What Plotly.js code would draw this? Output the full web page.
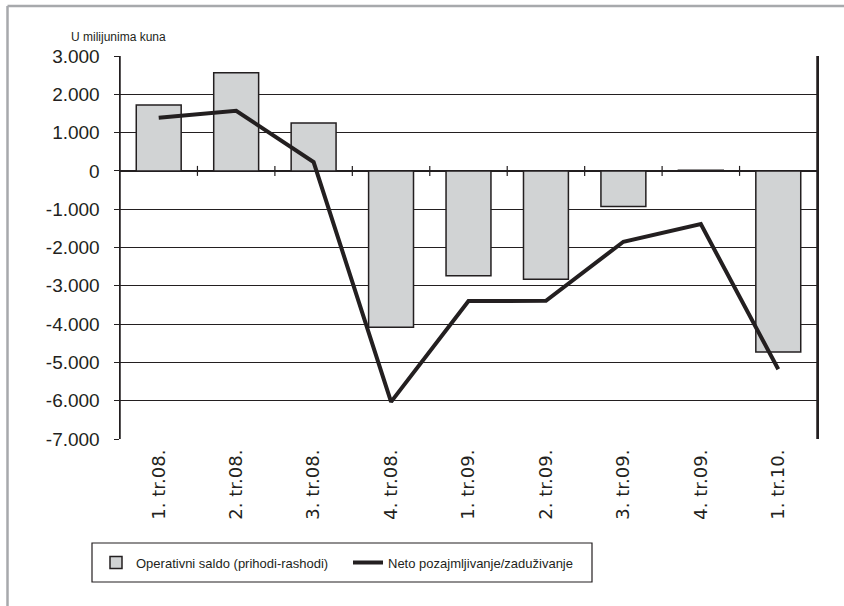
<!DOCTYPE html>
<html>
<head>
<meta charset="utf-8">
<script src="https://cdn.plot.ly/plotly-3.0.1.min.js"></script>
<style>html,body{margin:0;padding:0;background:#fff;}#chart{width:844px;height:606px;}</style>
</head>
<body>
<div id="chart"></div>
<script>
// Data
var categories = ["1. tr.08.", "2. tr.08.", "3. tr.08.", "4. tr.08.", "1. tr.09.", "2. tr.09.", "3. tr.09.", "4. tr.09.", "1. tr.10."];
var operativniSaldo = [1720, 2560, 1250, -4080, -2740, -2830, -930, 20, -4730];
var netoPozajmljivanje = [1390, 1570, 230, -6030, -3400, -3390, -1850, -1390, -5180];
var yTickVals = [3000, 2000, 1000, 0, -1000, -2000, -3000, -4000, -5000, -6000, -7000];
var yTickText = ["3.000", "2.000", "1.000", "0", "-1.000", "-2.000", "-3.000", "-4.000", "-5.000", "-6.000", "-7.000"];
var unitLabel = "U milijunima kuna";
var seriesNames = ["Operativni saldo (prihodi-rashodi)", "Neto pozajmljivanje/zaduživanje"];

var traces = [
  {
    type: "bar",
    x: categories,
    y: operativniSaldo,
    name: seriesNames[0],
    marker: {color: "#d1d3d4", line: {color: "#231f20", width: 1.5}},
    hoverinfo: "x+y"
  },
  {
    type: "scatter",
    mode: "lines",
    x: categories,
    y: netoPozajmljivanje,
    name: seriesNames[1],
    line: {color: "#231f20", width: 4},
    hoverinfo: "x+y"
  }
];

var W = 697, H = 383, L = 120, T = 56;
function px(x) { return (x - L) / W; }
function py(y) { return (T + H - y) / H; }

var yRange = [-7000, 3000];
var tickHalf = 5 * (yRange[1] - yRange[0]) / H; // 5px in data units

var shapes = [
  {type: "rect", xref: "paper", yref: "paper", x0: px(92), x1: px(592), y0: py(543), y1: py(582), line: {color: "#231f20", width: 1.2}, fillcolor: "rgba(0,0,0,0)", layer: "below"},
  {type: "line", xref: "paper", yref: "paper", x0: px(7.5), x1: px(7.5), y0: py(6), y1: py(620), line: {color: "#a7a9ac", width: 2.5}},
  {type: "line", xref: "paper", yref: "paper", x0: px(7.5), x1: px(850), y0: py(6), y1: py(6), line: {color: "#a7a9ac", width: 2.5}},
  {type: "line", xref: "paper", yref: "paper", x0: 0, x1: 0, y0: 0, y1: 1, line: {color: "#231f20", width: 1.5}},
  {type: "line", xref: "paper", yref: "paper", x0: 1, x1: 1, y0: 0, y1: 1, line: {color: "#231f20", width: 1.5}}
];
// category-boundary tick marks crossing the zero line
for (var i = 0; i < categories.length - 1; i++) {
  shapes.push({type: "line", xref: "x", yref: "y", x0: i + 0.5, x1: i + 0.5, y0: -tickHalf, y1: tickHalf, line: {color: "#231f20", width: 1.2}});
}

var layout = {
  width: 844,
  height: 606,
  margin: {l: 120, r: 27, t: 56, b: 167},
  paper_bgcolor: "#ffffff",
  plot_bgcolor: "#ffffff",
  showlegend: true,
  bargap: 0.42,
  font: {family: "Liberation Sans, Arial, sans-serif", color: "#231f20"},
  xaxis: {
    type: "category",
    categoryarray: categories,
    range: [-0.5, categories.length - 0.5],
    showgrid: false,
    zeroline: false,
    showline: false,
    ticks: "",
    tickangle: -90,
    tickfont: {family: "DejaVu Sans", size: 18, color: "#231f20"},
    ticklabelstandoff: 6,
    fixedrange: true
  },
  yaxis: {
    range: yRange,
    tickmode: "array",
    tickvals: yTickVals,
    ticktext: yTickText,
    showgrid: true,
    gridcolor: "#231f20",
    gridwidth: 1,
    zeroline: true,
    zerolinecolor: "#231f20",
    zerolinewidth: 1.5,
    showline: true,
    linecolor: "#231f20",
    linewidth: 1.5,
    mirror: true,
    ticks: "outside",
    ticklen: 5,
    tickcolor: "#231f20",
    tickfont: {family: "Liberation Sans", size: 19, color: "#231f20"},
    ticklabelstandoff: 10,
    fixedrange: true
  },
  legend: {
    orientation: "h",
    x: px(96),
    xanchor: "left",
    y: py(562.5),
    yanchor: "middle",
    borderwidth: 0,
    bgcolor: "rgba(0,0,0,0)",
    entrywidth: 207,
    font: {family: "Liberation Sans, Arial, sans-serif", size: 13, color: "#231f20"},
    traceorder: "normal"
  },
  annotations: [
    {
      xref: "paper", yref: "paper",
      x: px(69), y: py(37),
      xanchor: "left", yanchor: "middle",
      text: unitLabel,
      showarrow: false,
      font: {family: "Liberation Sans, Arial, sans-serif", size: 12, color: "#231f20"}
    }
  ],
  shapes: shapes
};

Plotly.newPlot("chart", traces, layout, {displayModeBar: false, staticPlot: true});
</script>
</body>
</html>
